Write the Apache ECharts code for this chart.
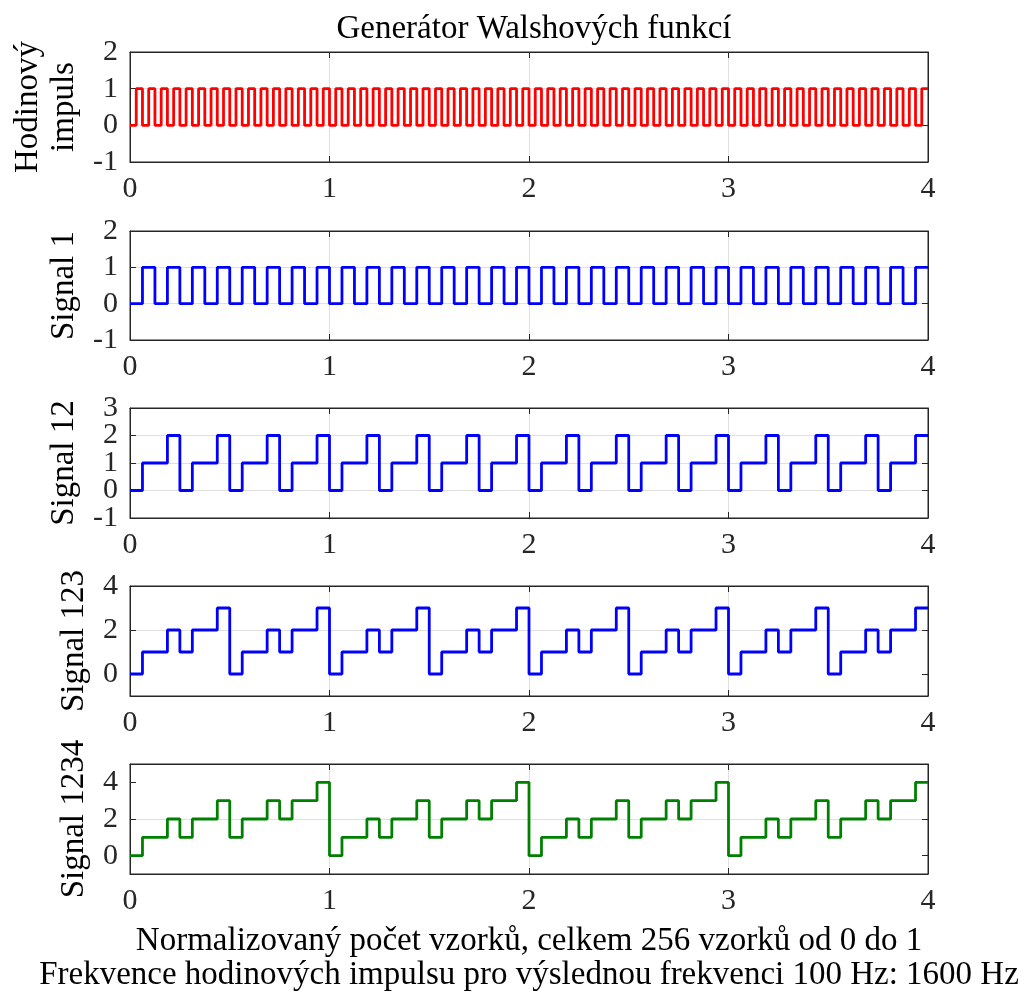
<!DOCTYPE html>
<html>
<head>
<meta charset="utf-8">
<script src="https://cdn.jsdelivr.net/npm/echarts@6/dist/echarts.min.js"></script>
<style>html,body{margin:0;padding:0;background:#fff}#c{width:1034px;height:994px}</style>
</head>
<body>
<div id="c"></div>
<script>
// ---- data (step values, equal-length segments spanning x = 0..4) ----
const titleText = 'Generátor Walshových funkcí';
const xTicks = [0, 1, 2, 3, 4];
const xLabelLines = ['Normalizovaný počet vzorků, celkem 256 vzorků od 0 do 1',
                     'Frekvence hodinových impulsu pro výslednou frekvenci 100 Hz: 1600 Hz'];
const yNames = ['Hodinový\nimpuls', 'Signal 1', 'Signal 12', 'Signal 123', 'Signal 1234'];
const yRanges = [[-1, 2], [-1, 2], [-1, 3], [-1, 4], [-1, 5]];
const yTickValues = [[-1, 0, 1, 2], [-1, 0, 1, 2], [-1, 0, 1, 2, 3], [0, 2, 4], [0, 2, 4]];
const clockValues = [
  0,1,0,1,0,1,0,1,0,1,0,1,0,1,0,1,0,1,0,1,0,1,0,1,0,1,0,1,0,1,0,1,
  0,1,0,1,0,1,0,1,0,1,0,1,0,1,0,1,0,1,0,1,0,1,0,1,0,1,0,1,0,1,0,1,
  0,1,0,1,0,1,0,1,0,1,0,1,0,1,0,1,0,1,0,1,0,1,0,1,0,1,0,1,0,1,0,1,
  0,1,0,1,0,1,0,1,0,1,0,1,0,1,0,1,0,1,0,1,0,1,0,1,0,1,0,1,0,1,0,1
];
const signal1 = [
  0,1,0,1,0,1,0,1,0,1,0,1,0,1,0,1,
  0,1,0,1,0,1,0,1,0,1,0,1,0,1,0,1,
  0,1,0,1,0,1,0,1,0,1,0,1,0,1,0,1,
  0,1,0,1,0,1,0,1,0,1,0,1,0,1,0,1
];
const signal12 = [
  0,1,1,2,0,1,1,2,0,1,1,2,0,1,1,2,
  0,1,1,2,0,1,1,2,0,1,1,2,0,1,1,2,
  0,1,1,2,0,1,1,2,0,1,1,2,0,1,1,2,
  0,1,1,2,0,1,1,2,0,1,1,2,0,1,1,2
];
const signal123 = [
  0,1,1,2,1,2,2,3,0,1,1,2,1,2,2,3,
  0,1,1,2,1,2,2,3,0,1,1,2,1,2,2,3,
  0,1,1,2,1,2,2,3,0,1,1,2,1,2,2,3,
  0,1,1,2,1,2,2,3,0,1,1,2,1,2,2,3
];
const signal1234 = [
  0,1,1,2,1,2,2,3,1,2,2,3,2,3,3,4,
  0,1,1,2,1,2,2,3,1,2,2,3,2,3,3,4,
  0,1,1,2,1,2,2,3,1,2,2,3,2,3,3,4,
  0,1,1,2,1,2,2,3,1,2,2,3,2,3,3,4
];
const seriesValues = [clockValues, signal1, signal12, signal123, signal1234];
const seriesColors = ['#ff0000', '#0000ff', '#0000ff', '#0000ff', '#008000'];

// ---- layout / style ----
const FONT = 'Liberation Serif';
const FS = 30;      // tick labels
const FT = 33;      // titles / axis names
const AX = '#262626';
const GRIDC = '#e0e0e0';
const tops = [52, 231, 408, 586, 764];
const heights = [110, 109, 110, 110, 110];
const nameGaps = [48, 44, 44, 34, 34];

function toPoints(vals) {
  const dt = 4 / vals.length;
  const pts = vals.map((v, i) => [i * dt, v]);
  pts.push([4, vals[vals.length - 1]]);
  return pts;
}

const grid = [], xAxis = [], yAxis = [], series = [];
for (let k = 0; k < 5; k++) {
  grid.push({left: 130, width: 798, top: tops[k], height: heights[k],
             show: true, borderColor: AX, borderWidth: 1, backgroundColor: '#fff'});
  const last = k === 4;
  const xIdx = xAxis.length;
  xAxis.push({
    type: 'value', gridIndex: k, min: 0, max: 4, interval: 1, position: 'bottom',
    axisLine: {show: true, onZero: false, lineStyle: {color: AX, width: 1}},
    axisTick: {show: true, inside: true, length: 6, lineStyle: {color: AX}},
    axisLabel: {show: true, color: AX, fontFamily: FONT, fontSize: FS, margin: 12,
                showMinLabel: true, showMaxLabel: true,
                formatter: v => xTicks.includes(v) ? String(v) : ''},
    splitLine: {show: true, showMinLine: false, showMaxLine: false, lineStyle: {color: GRIDC, width: 1}},
    name: last ? xLabelLines.join('\n') : '',
    nameLocation: 'middle', nameGap: 50,
    nameTextStyle: {color: '#000', fontFamily: FONT, fontSize: FT, lineHeight: 34}
  });
  xAxis.push({
    type: 'value', gridIndex: k, min: 0, max: 4, interval: 1, position: 'top',
    axisLine: {show: true, onZero: false, lineStyle: {color: AX, width: 1}},
    axisTick: {show: true, inside: true, length: 6, lineStyle: {color: AX}},
    axisLabel: {show: false}, splitLine: {show: false}
  });
  const r = yRanges[k];
  const tv = yTickValues[k];
  const tvA = tv.filter((_, i) => i % 2 === 0);
  const tvB = tv.filter((_, i) => i % 2 === 1);
  const yIdx = yAxis.length;
  // main left axis: line, ticks, grid lines, name, every other label
  yAxis.push({
    type: 'value', gridIndex: k, min: r[0], max: r[1], interval: 1, position: 'left',
    axisLine: {show: true, onZero: false, lineStyle: {color: AX, width: 1}},
    axisTick: {show: true, inside: true, length: 6, customValues: tv, lineStyle: {color: AX}},
    axisLabel: {show: true, color: AX, fontFamily: FONT, fontSize: FS, margin: 12,
                customValues: tvA, showMinLabel: true, showMaxLabel: true,
                formatter: v => String(v)},
    splitLine: {show: true, showMinLine: false, showMaxLine: false, lineStyle: {color: GRIDC, width: 1}},
    name: yNames[k], nameLocation: 'middle', nameRotate: 90, nameGap: nameGaps[k],
    nameTextStyle: {color: '#000', fontFamily: FONT, fontSize: FT, lineHeight: 36}
  });
  // companion left axis carrying the remaining labels
  yAxis.push({
    type: 'value', gridIndex: k, min: r[0], max: r[1], interval: 1, position: 'left', offset: 0,
    axisLine: {show: false, onZero: false}, axisTick: {show: false}, splitLine: {show: false},
    axisLabel: {show: tvB.length > 0, color: AX, fontFamily: FONT, fontSize: FS, margin: 12,
                customValues: tvB.length ? tvB : [r[0]], showMinLabel: true, showMaxLabel: true,
                formatter: v => String(v)}
  });
  yAxis.push({
    type: 'value', gridIndex: k, min: r[0], max: r[1], interval: 1, position: 'right',
    axisLine: {show: true, onZero: false, lineStyle: {color: AX, width: 1}},
    axisTick: {show: true, inside: true, length: 6, customValues: tv, lineStyle: {color: AX}},
    axisLabel: {show: false}, splitLine: {show: false}
  });
  series.push({
    type: 'line', xAxisIndex: xIdx, yAxisIndex: yIdx, step: 'end',
    showSymbol: false, symbol: 'none', animation: false, clip: true,
    data: toPoints(seriesValues[k]),
    lineStyle: {color: seriesColors[k], width: 2.8}, z: 3
  });
}

const chart = echarts.init(document.getElementById('c'), null, {renderer: 'canvas'});
chart.setOption({
  animation: false,
  backgroundColor: '#fff',
  title: {text: titleText, left: 529, top: 8, textAlign: 'center',
          textStyle: {color: '#000', fontFamily: FONT, fontSize: FT, fontWeight: 'normal'}},
  grid, xAxis, yAxis, series
});
</script>
</body>
</html>
